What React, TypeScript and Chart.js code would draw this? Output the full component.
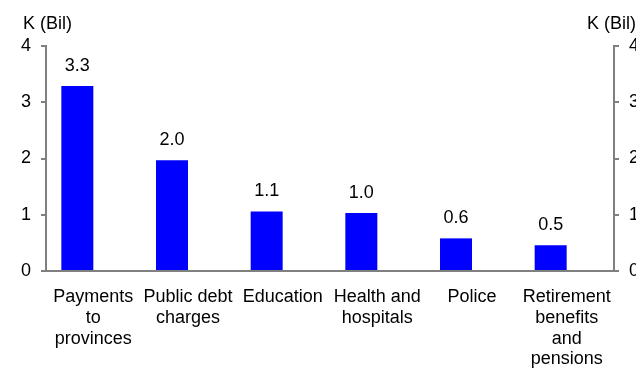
import React, { useEffect, useRef } from "react";
import { Chart, registerables } from "chart.js";

Chart.register(...registerables);

const categories: string[][] = [
  ["Payments", "to", "provinces"],
  ["Public debt", "charges"],
  ["Education"],
  ["Health and", "hospitals"],
  ["Police"],
  ["Retirement", "benefits", "and", "pensions"],
];
const spending: number[] = [3.29, 1.97, 1.06, 1.03, 0.58, 0.46];
const emptySeries: (number | null)[] = [null, null, null, null, null, null];
const yTicks: number[] = [0, 1, 2, 3, 4];
const unitLabel = "K (Bil)";

const FONT = "'Liberation Sans', Arial, sans-serif";
const GRAY = "#808080";

const labelsPlugin = {
  id: "customLabels",
  afterDatasetsDraw(chart: any) {
    const ctx = chart.ctx;
    const meta = chart.getDatasetMeta(0);
    ctx.save();
    ctx.fillStyle = "#000";
    ctx.font = `18px ${FONT}`;
    ctx.textAlign = "center";
    ctx.textBaseline = "middle";
    meta.data.forEach((bar: any, i: number) => {
      ctx.fillText(spending[i].toFixed(1), bar.x, bar.y - 20);
    });
    const area = chart.chartArea;
    ctx.textAlign = "left";
    ctx.fillText(unitLabel, area.left - 23, area.top - 22);
    ctx.fillText(unitLabel, area.right - 27, area.top - 22);
    ctx.restore();
  },
};

export default function App() {
  const ref = useRef<HTMLCanvasElement>(null);
  useEffect(() => {
    document.body.style.margin = "0";
    const tickFont = { family: FONT, size: 18 };
    const yScale = (position: "left" | "right", width: number) => ({
      position,
      min: 0,
      max: 4,
      afterBuildTicks(scale: any) {
        scale.ticks = yTicks.map((v) => ({ value: v }));
      },
      afterFit(scale: any) {
        scale.width = width;
      },
      grid: {
        drawOnChartArea: false,
        drawTicks: true,
        tickLength: 5,
        color: GRAY,
        lineWidth: 2,
      },
      border: { display: true, color: GRAY, width: 2 },
      ticks: { color: "#000", font: tickFont, padding: 10 },
    });
    const chart = new Chart(ref.current!, {
      type: "bar",
      data: {
        labels: categories,
        datasets: [
          {
            data: spending,
            backgroundColor: "#0000FF",
            categoryPercentage: 0.676,
            barPercentage: 1,
            yAxisID: "y",
          },
          {
            data: emptySeries,
            backgroundColor: "#0000FF",
            categoryPercentage: 0.676,
            barPercentage: 1,
            yAxisID: "y",
          },
        ],
      },
      options: {
        animation: false,
        responsive: false,
        layout: { padding: { top: 46, left: 0, right: 0, bottom: 0 } },
        plugins: { legend: { display: false }, tooltip: { enabled: false } },
        scales: {
          x: {
            grid: { display: false },
            border: { display: true, color: GRAY, width: 2 },
            ticks: {
              color: "#000",
              font: { family: FONT, size: 18, lineHeight: 1.15 },
              padding: 8,
              maxRotation: 0,
              autoSkip: false,
            },
            afterFit(scale: any) {
              scale.height = 105;
            },
          },
          y: yScale("left", 46),
          y2: yScale("right", 22),
        },
      },
      plugins: [labelsPlugin],
    });
    return () => chart.destroy();
  }, []);
  return <canvas ref={ref} width={636} height={376} style={{ display: "block" }} />;
}
